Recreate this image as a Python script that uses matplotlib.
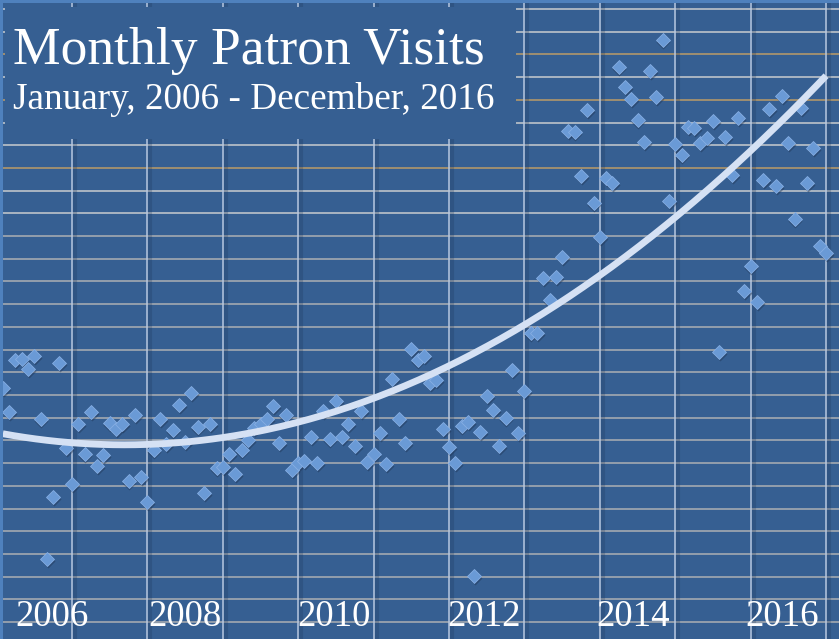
import numpy as np
import matplotlib
matplotlib.use("Agg")
import matplotlib.pyplot as plt
from matplotlib.patches import Rectangle
import matplotlib.transforms as mtransforms

# ---------------- data ----------------
start_year = 2006
visits = [
    5650, 5130, 6270, 6290, 6070, 6360, 4970, 1890, 3250, 6200, 4330, 3540,   # 2006
    4860, 4200, 5130, 3940, 4180, 4880, 4750, 4860, 3610, 5060, 3690, 3140,   # 2007
    4290, 4970, 4420, 4730, 5280, 4460, 5540, 4800, 3340, 4860, 3890, 3910,   # 2008
    4200, 3760, 4290, 4510, 4770, 4860, 4970, 5260, 4440, 5060, 3850, 4000,   # 2009
    4050, 4570, 4000, 5150, 4530, 5370, 4570, 4860, 4380, 5150, 4020, 4200,   # 2010
    4660, 3980, 5850, 4970, 4440, 6510, 6270, 6360, 5760, 5830, 4750, 4350,   # 2011
    4000, 4820, 4910, 1510, 4680, 5480, 5170, 4380, 4990, 6050, 4660, 5590,   # 2012
    6870, 6870, 8080, 7590, 8100, 8540, 11310, 11290, 10320, 11780, 9730, 8980,  # 2013
    10280, 10170, 12720, 12280, 12020, 11560, 11070, 12640, 12060, 13320, 9770, 11030,  # 2014
    10790, 11400, 11380, 11050, 11160, 11540, 6450, 11180, 10350, 11600, 7790, 8340,  # 2015
    7550, 10240, 11800, 10100, 12090, 11050, 9380, 11820, 10170, 10940, 8780, 8630,  # 2016
]
year_labels = ["2006", "2008", "2010", "2012", "2014", "2016"]
label_pos = [2006.74, 2008.50, 2010.48, 2012.46, 2014.44, 2016.42]
title = "Monthly Patron Visits"
subtitle = "January, 2006 - December, 2016"

months = np.arange(len(visits))
x = start_year + (months + 1) / 12.0
y = np.array(visits, dtype=float)

# ---------------- style ----------------
BG = "#365f92"
FIG_BG = "#4f81bd"
W, H = 839, 639
YMIN, YMAX = 126, 14134
fig = plt.figure(figsize=(W / 100, H / 100), dpi=100, facecolor=FIG_BG)
ax = fig.add_axes([3 / W, 0, (W - 3) / W, (H - 3) / H])
ax.set_facecolor(BG)
for s in ax.spines.values():
    s.set_visible(False)
ax.set_xticks([])
ax.set_yticks([])

ax.set_xlim(2006.085, 2017.172)
ax.set_ylim(YMIN, YMAX)

# horizontal grid
tan_levels = {13000, 12000, 10500}
for lev in np.arange(500, 14001, 500):
    col = "#a8926e" if lev in tan_levels else ("#b3bbc6" if lev > 9000 else "#9aa3ae")
    ax.axhline(lev, color=col, lw=1.3, zorder=1)

# vertical grid with a soft shadow
shadow_tr = mtransforms.offset_copy(ax.transData, fig=fig, x=3.0, y=0, units="dots")
years = np.arange(2007, 2018)
ax.vlines(years, YMIN, YMAX, colors="#1d3558", lw=3.0, alpha=0.25, zorder=1.1,
          transform=shadow_tr)
ax.vlines(years, YMIN, YMAX, colors="#b7c7df", lw=1.1, zorder=1.2)

# title box covering the grid
box = Rectangle((5 / W, 1 - 139 / H), (516 - 5) / W, (139 - 7) / H,
                transform=fig.transFigure, facecolor=BG, edgecolor="none", zorder=3)
fig.patches.append(box)

# markers: shadow + diamonds
mshadow = mtransforms.offset_copy(ax.transData, fig=fig, x=0.8, y=-1.8, units="dots")
ax.plot(x, y, ls="none", marker="D", ms=7.5, mfc="#1e3454", mec="none",
        alpha=0.45, zorder=4, transform=mshadow)
ax.plot(x, y, ls="none", marker="D", ms=7.5, mfc="#6a9ad6", mec="#86aee3",
        mew=0.6, zorder=5)

# polynomial (order 2) trend line
coef = np.polyfit(x, y, 2)
xf = np.linspace(x[0], x[-1], 300)
ax.plot(xf, np.polyval(coef, xf), color="#d5e1f4", lw=4.9, solid_capstyle="butt", zorder=6)

# year labels
for lab, xp in zip(year_labels, label_pos):
    ax.text(xp, (H - 626) / (H - 3), lab, transform=ax.get_xaxis_transform(),
            ha="center", va="baseline", color="white", fontsize=26.5,
            family="Liberation Serif", zorder=7)

fig.text(13 / W, 1 - 64 / H, title, ha="left", va="baseline", color="white",
         fontsize=38.5, family="Liberation Serif", zorder=8)
fig.text(13 / W, 1 - 109 / H, subtitle, ha="left", va="baseline", color="white",
         fontsize=26.8, family="Liberation Serif", zorder=8)

fig.savefig("out.png", dpi=100, facecolor=FIG_BG)
